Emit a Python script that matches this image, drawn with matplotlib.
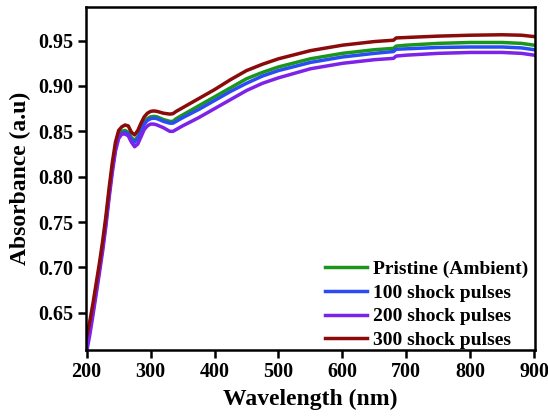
import matplotlib
matplotlib.use("Agg")
import matplotlib.pyplot as plt

wavelength = [200, 205, 210, 215, 220, 225, 230, 235, 240, 245, 250, 255, 260, 265, 270, 275,
              280, 285, 290, 295, 300, 305, 310, 320, 330, 335, 340, 350, 375, 400, 425, 450,
              475, 500, 550, 600, 650, 680, 684, 700, 750, 800, 850, 880, 900]

pristine = [0.614, 0.634, 0.655, 0.678, 0.700, 0.724, 0.751, 0.782, 0.810, 0.833, 0.846, 0.850,
            0.851, 0.849, 0.843, 0.840, 0.844, 0.852, 0.860, 0.864, 0.866, 0.8665, 0.866, 0.863,
            0.861, 0.861, 0.864, 0.868, 0.878, 0.888, 0.898, 0.908, 0.915, 0.921, 0.930, 0.936,
            0.940, 0.9415, 0.944, 0.945, 0.947, 0.948, 0.948, 0.947, 0.945]

pulses_100 = [0.611, 0.631, 0.652, 0.675, 0.698, 0.722, 0.749, 0.780, 0.808, 0.831, 0.844, 0.848,
              0.849, 0.847, 0.841, 0.838, 0.842, 0.850, 0.858, 0.862, 0.864, 0.8645, 0.864, 0.861,
              0.859, 0.859, 0.861, 0.865, 0.874, 0.884, 0.894, 0.903, 0.911, 0.917, 0.926, 0.932,
              0.936, 0.938, 0.9405, 0.941, 0.9425, 0.943, 0.943, 0.942, 0.940]

pulses_200 = [0.607, 0.626, 0.648, 0.671, 0.694, 0.718, 0.745, 0.776, 0.804, 0.828, 0.842, 0.847,
              0.847, 0.845, 0.838, 0.833, 0.836, 0.844, 0.852, 0.856, 0.858, 0.858, 0.857, 0.854,
              0.850, 0.850, 0.852, 0.856, 0.865, 0.875, 0.885, 0.895, 0.903, 0.909, 0.919, 0.925,
              0.929, 0.9305, 0.933, 0.934, 0.936, 0.937, 0.937, 0.936, 0.934]

pulses_300 = [0.624, 0.641, 0.661, 0.683, 0.705, 0.729, 0.756, 0.787, 0.815, 0.838, 0.851, 0.855,
              0.857, 0.856, 0.849, 0.846, 0.851, 0.859, 0.866, 0.870, 0.872, 0.8725, 0.872, 0.870,
              0.869, 0.8695, 0.872, 0.876, 0.886, 0.896, 0.907, 0.917, 0.924, 0.930, 0.939, 0.945,
              0.949, 0.9505, 0.953, 0.9535, 0.955, 0.956, 0.9565, 0.956, 0.9545]

labels = ["Pristine (Ambient)", "100 shock pulses", "200 shock pulses", "300 shock pulses"]
colors = ["#1a961a", "#2a4cf5", "#7d22e8", "#8b0a0a"]
xticks = [200, 300, 400, 500, 600, 700, 800, 900]
yticks = [0.65, 0.70, 0.75, 0.80, 0.85, 0.90, 0.95]

plt.rcParams['font.family'] = ['Liberation Serif', 'DejaVu Serif']
plt.rcParams['font.weight'] = 'bold'

fig = plt.figure(figsize=(5.48, 4.18), dpi=100)
ax = fig.add_axes([0.157, 0.163, 0.819, 0.820])

for ys, lab, c in zip([pristine, pulses_100, pulses_200, pulses_300], labels, colors):
    ax.plot(wavelength, ys, color=c, lw=2.5, label=lab, solid_joinstyle='round')

ax.set_xlim(199, 901)
ax.set_ylim(0.609, 0.987)
ax.set_xticks(xticks)
ax.set_xticklabels([str(t) for t in xticks])
ax.set_yticks(yticks)
ax.set_yticklabels([f"{t:.2f}" for t in yticks])

for s in ax.spines.values():
    s.set_linewidth(1.8)
ax.tick_params(direction='out', length=6, width=1.8, labelsize=14.5, pad=3)
for lbl in ax.get_xticklabels() + ax.get_yticklabels():
    lbl.set_fontweight('bold')

ax.set_xlabel("Wavelength (nm)", fontsize=17, fontweight='bold', labelpad=5)
ax.set_ylabel("Absorbance (a.u)", fontsize=17, fontweight='bold', labelpad=5)

leg = ax.legend(loc='lower right', bbox_to_anchor=(1.003, -0.021), frameon=False,
                prop={'size': 14, 'weight': 'bold'}, handlelength=2.2, handletextpad=0.3,
                labelspacing=0.32, borderaxespad=0.0)
for h in leg.get_lines():
    h.set_linewidth(2.5)

fig.savefig("out.png", dpi=100)
